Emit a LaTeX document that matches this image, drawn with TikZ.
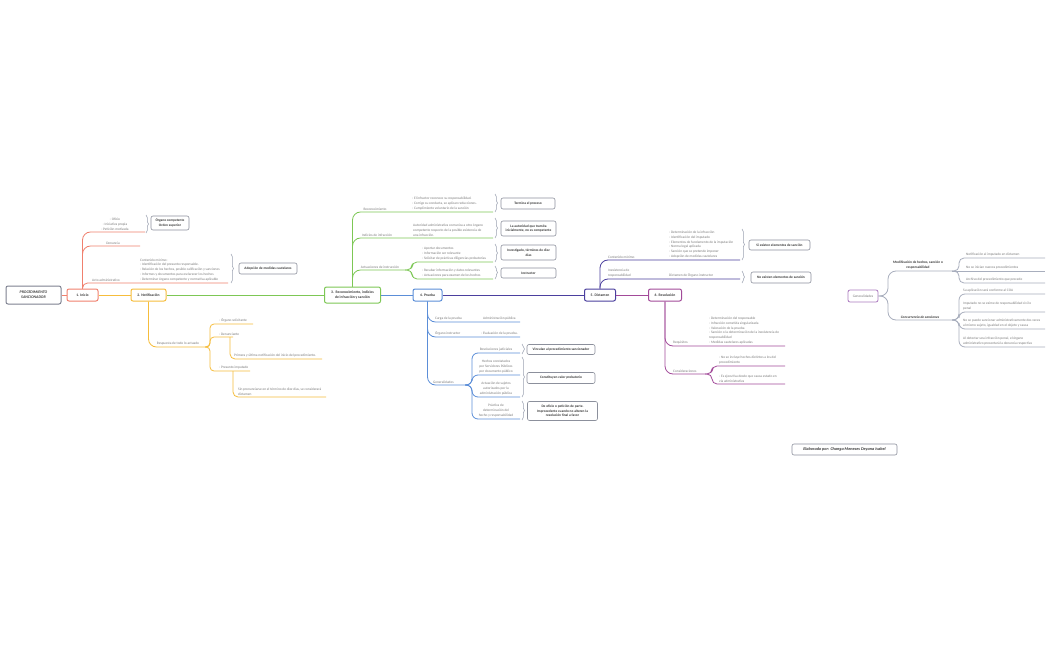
\documentclass[tikz,border=0pt]{standalone}
\usepackage{fontspec}
\setmainfont{Carlito}
\usetikzlibrary{decorations.pathreplacing}
\definecolor{cIni}{HTML}{F0806E}
\definecolor{cNot}{HTML}{F6BD3C}
\definecolor{cRec}{HTML}{7DC755}
\definecolor{cPru}{HTML}{5B8ED8}
\definecolor{cDic}{HTML}{4B3F9E}
\definecolor{cRes}{HTML}{A24A99}
\definecolor{cGen}{HTML}{A8AEBD}
\definecolor{genBorder}{HTML}{AC7ABF}
\definecolor{boxgray}{HTML}{8C909C}
\definecolor{rootgray}{HTML}{7D8190}
\definecolor{txtgray}{HTML}{7A7A7A}
\definecolor{boxtxt}{HTML}{3A3A3A}
\definecolor{bracegray}{HTML}{9CA2B2}
\begin{document}
\begin{tikzpicture}[x=1pt,y=-1pt,
  lbl/.style={font=\fontsize{3.5}{4.9}\selectfont, text=txtgray, inner sep=0pt, align=left},
  lblc/.style={lbl, align=center},
  sbox/.style={draw=boxgray, line width=0.6pt, rounded corners=2pt, fill=white, font=\fontsize{3.5}{4.6}\selectfont\bfseries, text=boxtxt, align=center, inner sep=0pt},
  mbox/.style={rounded corners=2pt, fill=white, line width=1pt, font=\fontsize{3.7}{4.8}\selectfont\bfseries, text=boxtxt, align=center, inner sep=0pt, minimum height=12pt},
  brc/.style={decorate, decoration={brace, amplitude=2.5pt}, draw=bracegray, line width=0.5pt},
  bl/.style={line width=0.8pt},
  ml/.style={line width=1pt}]
\useasboundingbox[fill=white] (0,0) rectangle (1050,650);

% ---------- main chain ----------
\node[mbox, draw=rootgray, minimum width=55pt, minimum height=18pt, font=\fontsize{3.9}{5}\selectfont\bfseries\itshape] (root) at (33.5,295) {PROCEDIMIENTO\\SANCIONADOR};
\node[mbox, draw=cIni, minimum width=31pt] (ini) at (82.5,295) {1. Inicio};
\node[mbox, draw=cNot, minimum width=35pt] (noti) at (148.5,295) {2. Notificación};
\node[mbox, draw=cRec, minimum width=56pt, minimum height=16pt] (reco) at (352.5,295) {3.\ \ Reconocimiento, indicios\\de infracción y sanción};
\node[mbox, draw=cPru, minimum width=29pt] (prue) at (427.5,295) {4. Prueba};
\node[mbox, draw=cDic, minimum width=31pt] (dict) at (600,295) {5. Dictamen};
\node[mbox, draw=cRes, minimum width=33pt] (reso) at (665,295) {6. Resolución};
\draw[cIni, ml] (root) -- (ini);
\draw[cNot, ml] (ini) -- (noti);
\draw[cRec, ml] (noti) -- (reco);
\draw[cPru, ml] (reco) -- (prue);
\draw[cDic, ml] (prue) -- (dict);
\draw[cRes, ml] (dict) -- (reso);

% ---------- 1. Inicio ----------
\coordinate (iA) at (145,232);
\coordinate (iB) at (140,246);
\coordinate (iC) at (228,283);
\draw[cIni, bl, rounded corners=8pt] (ini.north) |- (iA);
\draw[cIni, bl, rounded corners=8pt] (ini.north) |- (iB);
\draw[cIni, bl, rounded corners=5pt] (ini.north) |- (iC);
\node[lblc, anchor=south] (iAt) at (115,230.5) {- Oficio\\- Iniciativa propia\\- Petición motivada};
\node[lblc, anchor=south] (iBt) at (113,244.5) {Denuncia};
\node[lbl, anchor=south] (iCt) at (106,281.5) {Acto administrativo};
\node[lbl, anchor=south west] (iCb) at (140,281.5) {Contenido mínimo:\\- Identificación del presunto responsable.\\- Relación de los hechos, posible calificación y sanciones\\- Informes y documentos para esclarecer los hechos\\- Determinar órgano competente y normativa aplicable};
\draw[brc] (146,215) -- (146,233);
\node[sbox, minimum width=38pt, minimum height=14pt] (iAbox) at (170,223) {Órgano competente\\Orden superior};
\draw[brc] (231,254) -- (231,283);
\node[sbox, minimum width=58pt, minimum height=11pt] (iCbox) at (268,268.5) {Adopción de medidas cautelares};

% ---------- 2. Notificacion ----------
\coordinate (nJ) at (205,347);
\draw[cNot, bl, rounded corners=8pt] (noti.south) |- (nJ);
\node[lblc, anchor=south] (nJt) at (178,345.5) {Respuesta de todo lo actuado};
\draw[cNot, bl, rounded corners=4pt] (nJ) -| (210,324) -- (253,324) coordinate (nA);
\draw[cNot, bl, rounded corners=4pt] (nJ) -| (210,337) -- (233,337) coordinate (nB);
\draw[cNot, bl, rounded corners=4pt] (nJ) -| (210,371) -- (250,371) coordinate (nC);
\node[lbl, anchor=south west] (nAt) at (219,322.5) {- Órgano solicitante};
\node[lbl, anchor=south west] (nBt) at (219,335.5) {- Denunciante};
\node[lbl, anchor=south west] (nCt) at (219,369.5) {- Presunto imputado};
\coordinate (nB1) at (230,337);
\coordinate (nB2) at (322,359);
\draw[cNot, bl, rounded corners=5pt] (nB1) |- (nB2);
\node[lbl, anchor=south west] (nB2t) at (234,357.5) {Primera y última notificación del inicio del procedimiento.};
\coordinate (nC1) at (233,371);
\coordinate (nC2) at (326,397);
\draw[cNot, bl, rounded corners=5pt] (nC1) |- (nC2);
\node[lbl, anchor=south west] (nC2t) at (238,395.5) {Sin pronunciarse en el término de diez días, se considerará\\dictamen};

% ---------- 3. Reconocimiento ----------
\coordinate (rA) at (493,212);
\coordinate (rB) at (493,238);
\coordinate (rJ) at (405,270);
\draw[cRec, bl, rounded corners=8pt] (reco.north) |- (rA);
\draw[cRec, bl, rounded corners=8pt] (reco.north) |- (rB);
\draw[cRec, bl, rounded corners=8pt] (reco.north) |- (rJ);
\node[lbl, anchor=south] (rAt) at (375,210.5) {Reconocimiento};
\node[lbl, anchor=south] (rBt) at (377,236.5) {Indicios de infracción};
\node[lbl, anchor=south] (rJt) at (380,268.5) {Actuaciones de instrucción};
\node[lbl, anchor=south west] (rAb) at (412,210.5) {- El infractor reconoce su responsabilidad.\\- Corrige su conducta, se aplican reducciones.\\- Cumplimiento voluntario de la sanción};
\node[lbl, anchor=south west] (rBb) at (413,236.5) {Autoridad administrativa comunica a otro órgano\\competente respecto de la posible existencia de\\una infracción.};
\draw[cRec, bl, rounded corners=5pt] (rJ) -| (412,262) -- (493,262) coordinate (rC);
\draw[cRec, bl, rounded corners=5pt] (rJ) -| (412,279) -- (493,279) coordinate (rD);
\node[lbl, anchor=south west] (rCt) at (422,260.5) {- Aportar documentos\\- Información ser relevante\\- Solicitar de prácticas diligencias probatorias};
\node[lbl, anchor=south west] (rDt) at (422,277.5) {- Recabar información y datos relevantes\\- Actuaciones para examen de los hechos};
\draw[brc] (495,194) -- (495,212);
\draw[brc] (495,218) -- (495,238);
\draw[brc] (495,244) -- (495,262);
\draw[brc] (495,266) -- (495,279);
\node[sbox, minimum width=54pt, minimum height=11pt] (rAbox) at (528,203.5) {Termina el proceso};
\node[sbox, minimum width=55pt, minimum height=15pt] (rBbox) at (528.5,228.5) {La autoridad que tramita\\inicialmente, no es competente};
\node[sbox, minimum width=55pt, minimum height=15pt] (rCbox) at (528.5,252.5) {Investigado, términos de diez\\días};
\node[sbox, minimum width=55pt, minimum height=10pt] (rDbox) at (528.5,273) {Instructor};

% ---------- 4. Prueba ----------
\coordinate (pA) at (520,322);
\coordinate (pB) at (520,337);
\coordinate (pJ) at (465,385);
\draw[cPru, bl, rounded corners=8pt] (prue.south) |- (pA);
\draw[cPru, bl, rounded corners=8pt] (prue.south) |- (pB);
\draw[cPru, bl, rounded corners=8pt] (prue.south) |- (pJ);
\node[lbl, anchor=south west] (pAt) at (435,320.5) {Carga de la prueba};
\node[lbl, anchor=south west] (pAu) at (483,320.5) {Administración pública};
\node[lbl, anchor=south west] (pBt) at (435,335.5) {Órgano instructor};
\node[lbl, anchor=south west] (pBu) at (481,335.5) {- Evaluación de la prueba.};
\node[lbl, anchor=south west] (pJt) at (433,383.5) {Generalidades};
\draw[cPru, bl, rounded corners=6pt] (pJ) -| (472,353) -- (520,353) coordinate (pC);
\draw[cPru, bl, rounded corners=6pt] (pJ) -| (472,375) -- (520,375) coordinate (pD);
\draw[cPru, bl, rounded corners=6pt] (pJ) -| (472,397) -- (520,397) coordinate (pE);
\draw[cPru, bl, rounded corners=6pt] (pJ) -| (472,419) -- (520,419) coordinate (pF);
\node[lblc, anchor=south] (pCt) at (496,351.5) {Resoluciones judiciales};
\node[lblc, anchor=south] (pDt) at (496,373.5) {Hechos constatados\\por Servidores Públicos\\por documento público};
\node[lblc, anchor=south] (pEt) at (496,395.5) {Actuación de sujetos\\autorizados por la\\administración pública};
\node[lblc, anchor=south] (pFt) at (496,417.5) {Práctica de\\determinación del\\hecho y responsabilidad};
\draw[brc] (522,344) -- (522,354);
\draw[brc] (522,357) -- (522,397);
\draw[brc] (522,401) -- (522,420);
\node[sbox, minimum width=68pt, minimum height=10pt] (pCbox) at (561,349.5) {Vinculan al procedimiento sancionador};
\node[sbox, minimum width=68pt, minimum height=11pt] (pDbox) at (561,378) {Constituyen valor probatorio};
\node[sbox, minimum width=70pt, minimum height=19pt] (pFbox) at (562.5,411) {De oficio o petición de parte.\\Improcedente cuando no alteren la\\resolución final a favor};

% ---------- 5. Dictamen ----------
\coordinate (dA) at (740,260);
\coordinate (dB) at (740,279);
\draw[cDic, bl, rounded corners=8pt] (dict.north) |- (dA);
\draw[cDic, bl, rounded corners=8pt] (dict.north) |- (dB);
\node[lbl, anchor=south west] (dAt) at (608,258.5) {Contenido mínimo};
\node[lbl, anchor=south west] (dAb) at (669,258.5) {- Determinación de la infracción\\- Identificación del imputado\\- Elementos de fundamento de la imputación\\- Norma legal aplicada\\- Sanción que se pretende imponer\\- Adopción de medidas cautelares};
\node[lbl, anchor=south west] (dBt) at (608,277.5) {Inexistencia de\\responsabilidad};
\node[lbl, anchor=south west] (dBb) at (669,277.5) {Dictamen de Órgano instructor};
\draw[brc] (742,229) -- (742,260);
\draw[brc] (742,271) -- (742,283);
\node[sbox, minimum width=61pt, minimum height=10pt] (dAbox) at (779.5,245) {Si existen elementos de sanción};
\node[sbox, minimum width=60pt, minimum height=11pt] (dBbox) at (781,277.5) {No existen elementos de sanción};

% ---------- 6. Resolucion ----------
\coordinate (sA) at (785,346);
\coordinate (sJ) at (705,374);
\draw[cRes, bl, rounded corners=8pt] (reso.south) |- (sA);
\draw[cRes, bl, rounded corners=8pt] (reso.south) |- (sJ);
\node[lbl, anchor=south west] (sAt) at (673,344.5) {Requisitos};
\node[lbl, anchor=south west] (sAb) at (709,344.5) {- Determinación del responsable\\- Infracción cometida singularizada\\- Valoración de la prueba\\- Sanción o la determinación de la inexistencia de\\responsabilidad\\- Medidas cautelares aplicadas};
\node[lbl, anchor=south west] (sJt) at (673,372.5) {Consideraciones};
\draw[cRes, bl, rounded corners=5pt] (sJ) -| (712,366) -- (785,366) coordinate (sB);
\draw[cRes, bl, rounded corners=5pt] (sJ) -| (712,384) -- (785,384) coordinate (sC);
\node[lbl, anchor=south west] (sBt) at (719,364.5) {- No se incluye hechos distintos a los del\\procedimiento};
\node[lbl, anchor=south west] (sCt) at (719,382.5) {- Es ejecutiva desde que causa estado en\\vía administrativa};

% ---------- Generalidades (right) ----------
\node[mbox, draw=genBorder, line width=0.8pt, minimum width=30pt, font=\fontsize{3.5}{4.5}\selectfont, text=txtgray] (gen) at (863,296) {Generalidades};
\coordinate (gJ1) at (952,271);
\coordinate (gJ2) at (952,320);
\draw[cGen, bl, rounded corners=8pt] (gen.east) -| (888,271) -- (gJ1);
\draw[cGen, bl, rounded corners=8pt] (gen.east) -| (888,320) -- (gJ2);
\node[lblc, anchor=south, font=\fontsize{3.5}{4.8}\selectfont\bfseries, text=boxtxt] (gJ1t) at (918,269.5) {Modificación de hechos, sanción o\\responsabilidad};
\node[lblc, anchor=south, font=\fontsize{3.5}{4.8}\selectfont\bfseries\itshape, text=boxtxt] (gJ2t) at (920,318.5) {Concurrencia de sanciones};
\draw[cGen, bl, rounded corners=5pt] (gJ1) -| (959,258) -- (1045,258) coordinate (gA);
\draw[cGen, bl] (gJ1) -- (1045,271) coordinate (gB);
\draw[cGen, bl, rounded corners=5pt] (gJ1) -| (959,283) -- (1045,283) coordinate (gC);
\node[lbl, anchor=south west] (gAt) at (966,256.5) {Notificación al imputado en dictamen};
\node[lbl, anchor=south west] (gBt) at (966,269.5) {No se inician nuevos procedimientos};
\node[lbl, anchor=south west] (gCt) at (966,281.5) {Archivo del procedimiento que precede};
\draw[cGen, bl, rounded corners=6pt] (gJ2) -| (959,294) -- (1045,294) coordinate (gD);
\draw[cGen, bl, rounded corners=6pt] (gJ2) -| (959,312) -- (1045,312) coordinate (gE);
\draw[cGen, bl, rounded corners=6pt] (gJ2) -| (959,329) -- (1045,329) coordinate (gF);
\draw[cGen, bl, rounded corners=6pt] (gJ2) -| (959,347) -- (1045,347) coordinate (gG);
\node[lbl, anchor=south west] (gDt) at (963,292.5) {Su aplicación será conforme al COA};
\node[lbl, anchor=south west] (gEt) at (963,310.5) {Imputado no se exime de responsabilidad civil o\\penal};
\node[lbl, anchor=south west] (gFt) at (963,327.5) {No se puede sancionar administrativamente dos veces\\al mismo sujeto, igualdad en el objeto y causa};
\node[lbl, anchor=south west] (gGt) at (963,345.5) {Al detectar una infracción penal, el órgano\\administrativo presentará la denuncia respectiva};

% ---------- author ----------
\node[sbox, minimum width=105pt, minimum height=11pt, font=\fontsize{4.2}{5}\selectfont\bfseries\itshape] (elab) at (844.5,449.5) {Elaborado por: Changa Meneses Deyana Isabel};
\end{tikzpicture}
\end{document}
